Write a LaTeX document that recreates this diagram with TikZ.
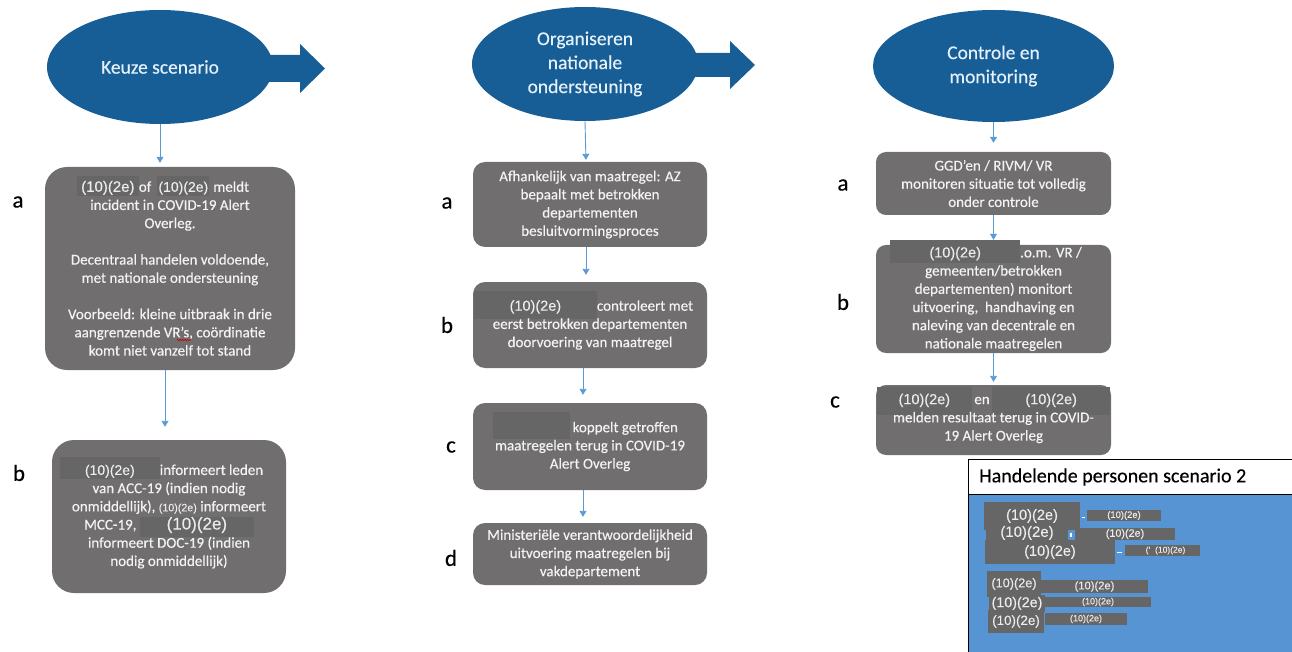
\documentclass[tikz,border=0pt]{standalone}
\usepackage{fontspec}
\setmainfont[FakeBold=0.35]{Carlito}
\newfontfamily\arfont[FakeBold=0.2]{Liberation Sans}
\usetikzlibrary{shapes.geometric,arrows.meta,decorations.pathmorphing}
\definecolor{ellblue}{RGB}{24,94,150}
\definecolor{ellt}{RGB}{228,240,250}
\definecolor{boxgray}{RGB}{112,110,111}
\definecolor{redc}{RGB}{103,102,103}
\definecolor{rdtxt}{RGB}{236,236,236}
\definecolor{arrblue}{RGB}{91,155,213}
\definecolor{panelblue}{RGB}{86,148,212}
\definecolor{txtw}{RGB}{243,243,243}
% redaction box: width, depth, height, font size, text
\newcommand\rd[5]{{\setlength\fboxsep{0pt}\smash{\colorbox{redc}{\makebox[#1]{\rule[-#2]{0pt}{\dimexpr#2+#3\relax}\color{rdtxt}\arfont\fontsize{#4}{#4}\selectfont #5}}}}}
\newcommand\rdt[2]{{\color{rdtxt}\arfont\fontsize{#1}{#1}\selectfont #2}}
\begin{document}
\begin{tikzpicture}[x=1pt,y=-1pt,
  ell/.style={ellipse, fill=ellblue, inner sep=0pt, text=ellt, align=center, font=\fontsize{19.5}{24}\selectfont},
  gb/.style={fill=boxgray, inner sep=0pt, text=txtw, align=center, font=\fontsize{15}{18.2}\selectfont},
  lab/.style={inner sep=0pt, font=\fontsize{23}{26}\selectfont},
  conn/.style={draw=arrblue, line width=0.9pt, -{Triangle[width=7pt,length=6pt]}},
  pr/.style={fill=redc, inner sep=0pt, text=rdtxt}]
\useasboundingbox (0,0) rectangle (1292,652);

% ---- big arrows behind ellipses
\fill[ellblue] (250,55) -- (300,55) -- (300,44) -- (325,68.5) -- (300,93) -- (300,82) -- (250,82) -- cycle;
\fill[ellblue] (680,53) -- (730,53) -- (730,41) -- (755,65) -- (730,89) -- (730,77) -- (680,77) -- cycle;

% ---- ellipses
\node[ell, minimum width=226pt, minimum height=114pt] (e1) at (160,67) {Keuze scenario};
\node[ell, minimum width=226pt, minimum height=114pt] (e2) at (585,64) {Organiseren\\nationale\\ondersteuning};
\node[ell, minimum width=241pt, minimum height=112pt] (e3) at (993.5,66) {Controle en\\monitoring};

% ---- left column
\node[gb, rounded corners=22pt, minimum width=250pt, minimum height=203pt] (ba) at (170,268.5)
 {\rd{62pt}{4pt}{16pt}{15}{(10)(2e)}of\hspace{6pt}\rd{52pt}{4pt}{16pt}{14}{(10)(2e)}\hspace{4pt}meldt\hspace*{14pt}\\
  incident in COVID-19 Alert\\
  Overleg.\\[18.2pt]
  Decentraal handelen voldoende,\\
  met nationale ondersteuning\\[18.2pt]
  Voorbeeld: kleine uitbraak in drie\\
  aangrenzende VR’s, coördinatie\\
  komt niet vanzelf tot stand};
\draw[red!80!black, line width=0.6pt, decorate, decoration={zigzag, amplitude=0.8pt, segment length=2.5pt}] (177,340) -- (191,340);
\node[gb, rounded corners=22pt, minimum width=234pt, minimum height=153pt] (bb) at (169,516.5)
 {\rd{100pt}{4pt}{18pt}{14}{(10)(2e)}informeert leden\hspace*{15pt}\\
  van ACC-19 (indien nodig\\
  onmiddellijk), \rdt{10.7}{(10)(2e)} informeert\\
  MCC-19, \rd{114pt}{7pt}{13pt}{17}{(10)(2e)}\\
  informeert DOC-19 (indien\\
  nodig onmiddellijk)};
\node[lab] (la) at (18,202) {a};
\node[lab] (lb) at (19,473) {b};

% ---- middle column
\node[gb, rounded corners=12pt, minimum width=234pt, minimum height=85pt] (ma) at (590,204.5)
 {Afhankelijk van maatregel: AZ\\bepaalt met betrokken\\departementen\\besluitvormingsproces};
\node[gb, rounded corners=12pt, minimum width=234pt, minimum height=86pt] (mb) at (590,325)
 {\rd{123pt}{8pt}{20pt}{14.5}{(10)(2e)}controleert met\hspace*{13pt}\\eerst betrokken departementen\\doorvoering van maatregel};
\node[gb, rounded corners=12pt, minimum width=234pt, minimum height=87pt] (mc) at (590,446.5)
 {\rd{77pt}{7pt}{20pt}{14}{}\,koppelt getroffen\hspace*{9pt}\\maatregelen terug in COVID-19\\Alert Overleg};
\node[gb, rounded corners=12pt, minimum width=234pt, minimum height=62pt] (md) at (590,554)
 {Ministeriële verantwoordelijkheid\\uitvoering maatregelen bij\\vakdepartement};
\node[lab] (mla) at (447,203) {a};
\node[lab] (mlb) at (447,325) {b};
\node[lab] (mlc) at (451,447) {c};
\node[lab] (mld) at (451,558) {d};

% ---- right column
\node[gb, rounded corners=10pt, minimum width=235pt, minimum height=63pt] (ra) at (993.5,183.5)
 {GGD’en / RIVM/ VR\\monitoren situatie tot volledig\\onder controle};
\node[gb, rounded corners=10pt, minimum width=235pt, minimum height=108pt] (rb) at (993.5,299)
 {\rd{130pt}{6pt}{17pt}{14.5}{(10)(2e)}.o.m. VR /\hspace*{15pt}\\gemeenten/betrokken\\departementen) monitort\\uitvoering,\ \ handhaving en\\naleving van decentrale en\\nationale maatregelen};
\node[gb, rounded corners=10pt, minimum width=235pt, minimum height=70pt] (rc) at (993.5,420)
 {\rd{95pt}{11pt}{17pt}{14.5}{(10)(2e)}\,en\,\rd{118pt}{11pt}{17pt}{14.5}{(10)(2e)}\\melden resultaat terug in COVID-\\19 Alert Overleg};
\node[lab] (rla) at (843,185) {a};
\node[lab] (rlb) at (843,302) {b};
\node[lab] (rlc) at (835,402) {c};

% ---- connectors
\draw[conn, shorten >=4pt] (e1.south) -- (e1.south |- ba.north);
\draw[conn, shorten >=13pt] ([xshift=-5pt]ba.south) -- ([xshift=-4pt]bb.north);
\draw[conn, shorten >=2pt] (e2.south) -- ([xshift=-4pt]ma.north);
\draw[conn, shorten >=7pt] ([xshift=-4pt]ma.south) -- ([xshift=-4pt]mb.north);
\draw[conn, shorten >=8pt] ([xshift=-7pt]mb.south) -- ([xshift=-7pt]mc.north);
\draw[conn, shorten >=6pt] ([xshift=-7pt]mc.south) -- ([xshift=-7pt]md.north);
\draw[conn, shorten >=9pt] (e3.south) -- (ra.north);
\draw[conn, shorten >=5pt] (ra.south) -- (rb.north);
\draw[conn, shorten >=3pt] (rb.south) -- (rc.north);

% ---- panel
\fill[panelblue] (968,494) rectangle (1300,660);
\fill[white] (968,459) rectangle (1300,494);
\draw[black, line width=0.8pt] (1300,459) -- (968,459) -- (968,660);
\draw[black, line width=0.6pt] (968,494) -- (1300,494);
\node[anchor=west, inner sep=0pt, font=\fontsize{20}{24}\selectfont] (ht) at (979,477) {Handelende personen scenario 2};

\node[pr, minimum width=96pt, minimum height=28pt, font=\arfont\fontsize{14.6}{15}\selectfont] (p1) at (1032,516) {(10)(2e)};
\node[pr, minimum width=74pt, minimum height=11pt, font=\arfont\fontsize{9.4}{10}\selectfont] (p1r) at (1124,515.5) {(10)(2e)};
\node[pr, minimum width=82pt, minimum height=18pt, font=\arfont\fontsize{15}{15}\selectfont] (p2) at (1027,533) {(10)(2e)};
\node[pr, minimum width=100pt, minimum height=12pt, font=\arfont\fontsize{10.8}{11}\selectfont] (p2r) at (1125,534) {(10)(2e)};
\node[pr, minimum width=130pt, minimum height=24pt, font=\arfont\fontsize{14.5}{15}\selectfont] (p3) at (1050,552) {(10)(2e)};
\node[pr, minimum width=75pt, minimum height=11pt, font=\arfont\fontsize{8.5}{9}\selectfont] (p3r) at (1162.5,550.5) {\hspace*{6pt}(’\ \ (10)(2e)};
\node[pr, minimum width=54pt, minimum height=26pt, font=\arfont\fontsize{12.7}{13}\selectfont] (p4) at (1014,584) {(10)(2e)};
\node[pr, minimum width=107pt, minimum height=13pt, font=\arfont\fontsize{11.2}{12}\selectfont] (p4r) at (1094.5,586.5) {(10)(2e)};
\node[pr, minimum width=56pt, minimum height=17pt, font=\arfont\fontsize{14.3}{15}\selectfont] (p5) at (1017,603.5) {(10)(2e)};
\node[pr, minimum width=106pt, minimum height=10pt, font=\arfont\fontsize{9}{9}\selectfont] (p5r) at (1098,602) {(10)(2e)};
\node[pr, minimum width=56pt, minimum height=23pt, font=\arfont\fontsize{13.4}{14}\selectfont] (p6) at (1016,621.5) {(10)(2e)};
\node[pr, minimum width=82pt, minimum height=12pt, font=\arfont\fontsize{9}{9}\selectfont] (p6r) at (1086,619) {(10)(2e)};
\draw[white, line width=1pt] (p1.east) ++(1.5,1) -- ++(3.5,0);
\draw[white, line width=1pt] (p3.east) ++(2,0) -- ++(5,0);
\fill[white] (1070,533) rectangle (1071.5,537);
\end{tikzpicture}
\end{document}
